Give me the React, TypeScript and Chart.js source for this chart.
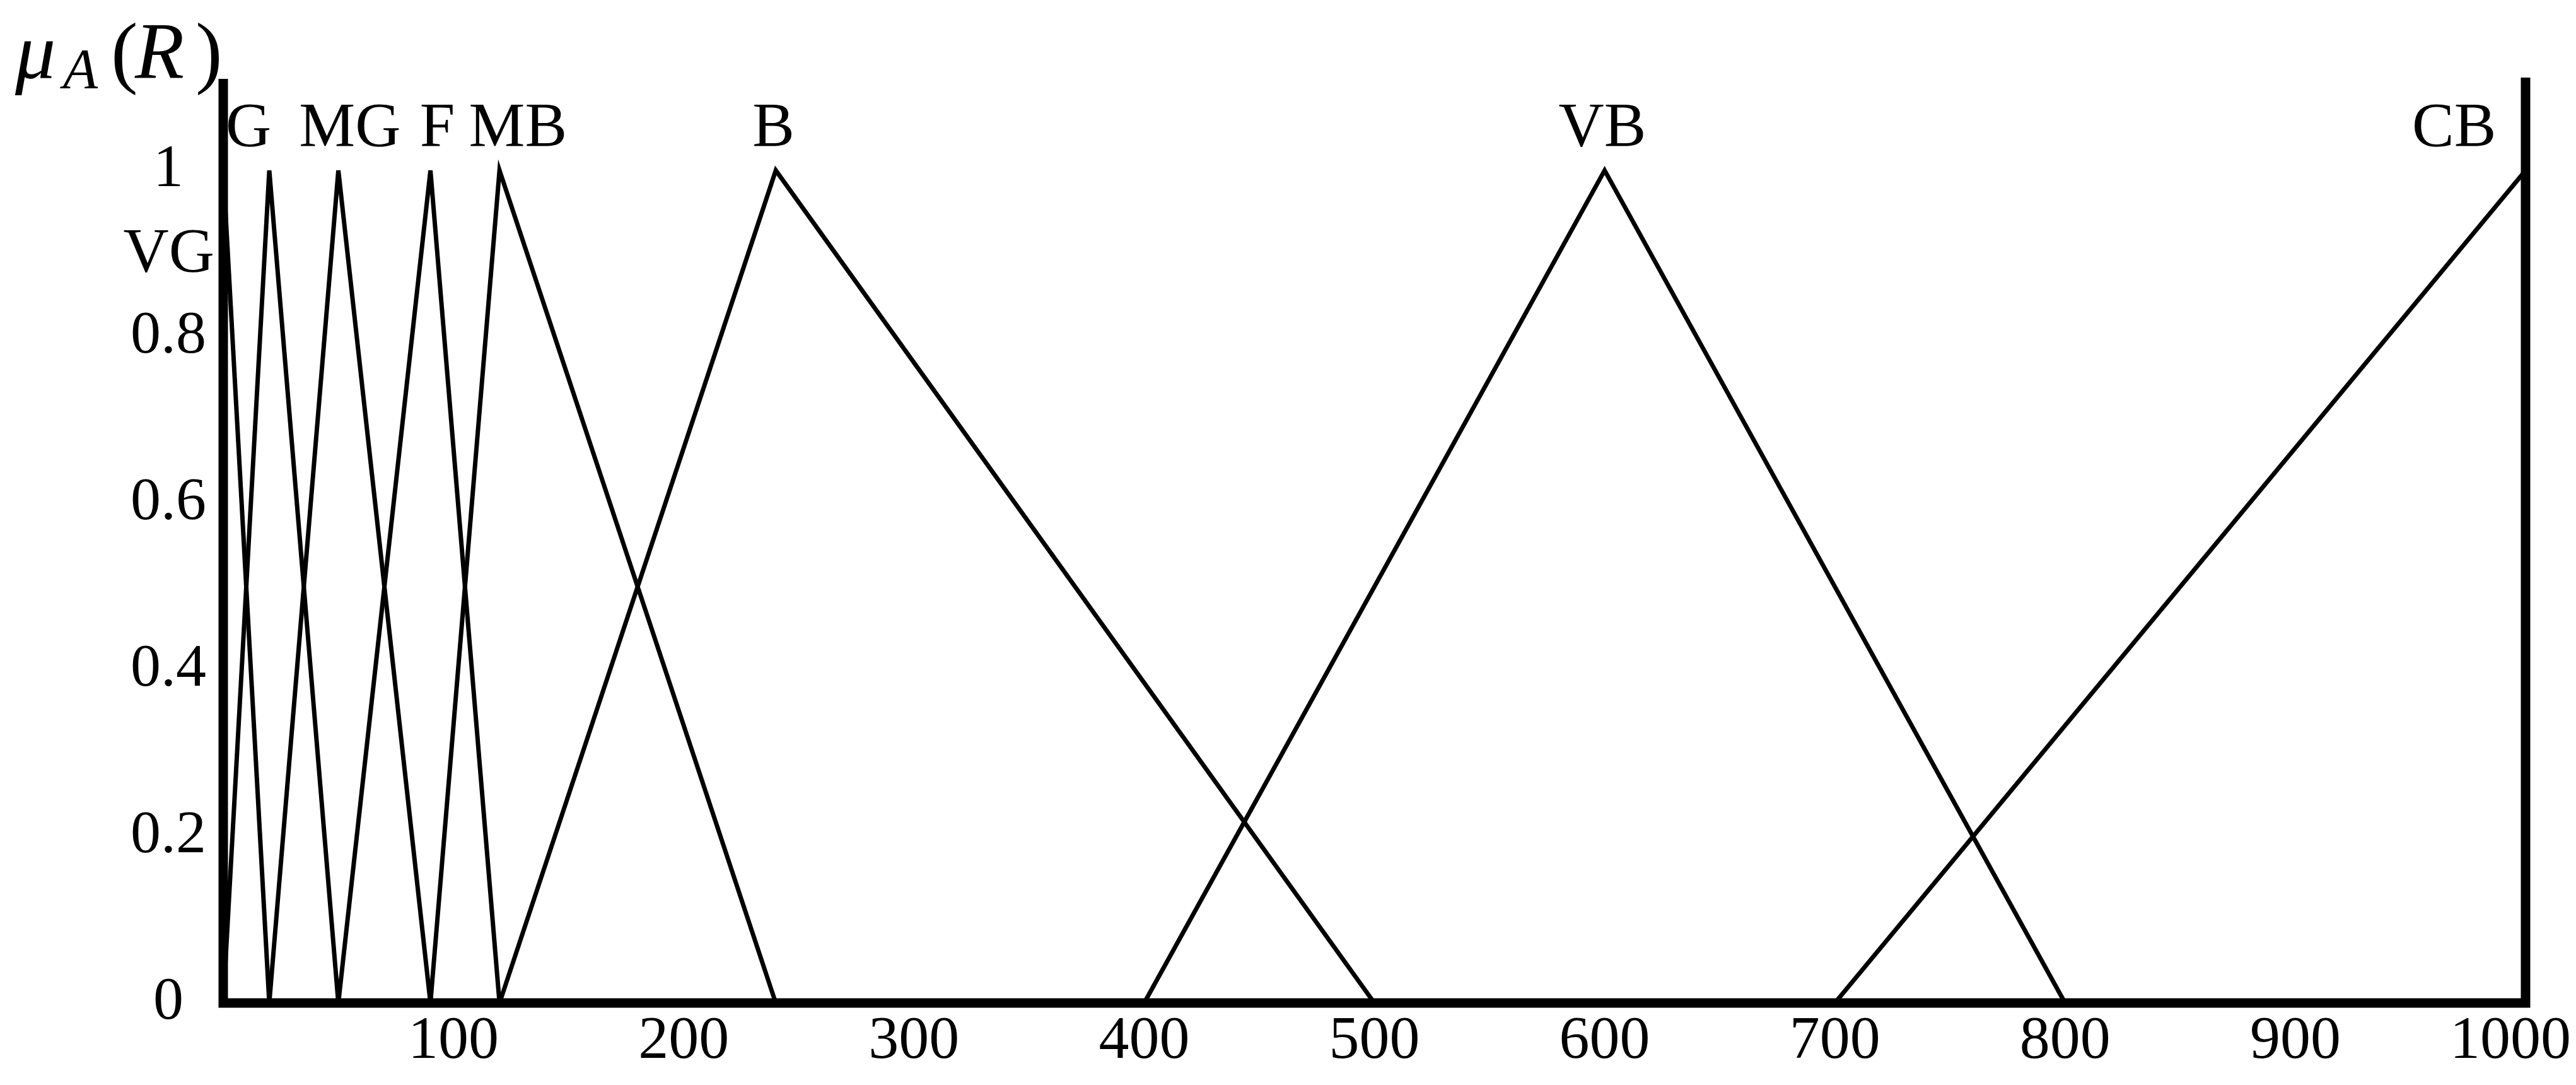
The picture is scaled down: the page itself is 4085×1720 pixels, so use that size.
import React, { useEffect, useRef } from "react";
import { Chart, registerables } from "chart.js";

Chart.register(...registerables);

// Membership functions (x = R, y = membership degree)
const vgX = [0, 20];
const vgY = [1, 0];
const gX = [0, 20, 50];
const gY = [0, 1, 0];
const mgX = [20, 50, 90];
const mgY = [0, 1, 0];
const fX = [50, 90, 120];
const fY = [0, 1, 0];
const mbX = [90, 120, 240];
const mbY = [0, 1, 0];
const bX = [120, 240, 500];
const bY = [0, 1, 0];
const vbX = [400, 600, 800];
const vbY = [0, 1, 0];
const cbX = [700, 1000];
const cbY = [0, 1];

const setNames = ["VG", "G", "MG", "F", "MB", "B", "VB", "CB"];
const xTickValues = [100, 200, 300, 400, 500, 600, 700, 800, 900, 1000];
const yTickValues = [0, 0.2, 0.4, 0.6, 0.8, 1];

const series = [
  [vgX, vgY],
  [gX, gY],
  [mgX, mgY],
  [fX, fY],
  [mbX, mbY],
  [bX, bY],
  [vbX, vbY],
  [cbX, cbY],
];

// Annotation anchors for set names (data coordinates)
const nameAnchors = [
  { x: 0, y: 0.879, align: "right", dx: -14 },
  { x: 11, y: 1.03, align: "center", dx: 0 },
  { x: 55, y: 1.03, align: "center", dx: 0 },
  { x: 93, y: 1.03, align: "center", dx: 0 },
  { x: 128, y: 1.03, align: "center", dx: 0 },
  { x: 239, y: 1.03, align: "center", dx: 0 },
  { x: 599, y: 1.03, align: "center", dx: 0 },
  { x: 969, y: 1.03, align: "center", dx: 0 },
];

const SERIF = '"Liberation Serif", "Times New Roman", serif';

const overlayPlugin = {
  id: "overlay",
  afterDatasetsDraw(chart: any) {
    const { ctx, chartArea: a, scales } = chart;
    const xs = scales.x;
    const ys = scales.y;
    ctx.save();
    // axes frame (left, bottom, right)
    ctx.strokeStyle = "#000";
    ctx.lineWidth = 15;
    ctx.lineJoin = "miter";
    ctx.lineCap = "butt";
    ctx.beginPath();
    ctx.moveTo(a.left, a.top);
    ctx.lineTo(a.left, a.bottom);
    ctx.lineTo(a.right, a.bottom);
    ctx.lineTo(a.right, a.top - 2);
    ctx.stroke();

    // set name labels
    ctx.fillStyle = "#000";
    ctx.textBaseline = "alphabetic";
    ctx.font = `100px ${SERIF}`;
    setNames.forEach((name, i) => {
      const an = nameAnchors[i];
      ctx.textAlign = an.align;
      ctx.fillText(name, xs.getPixelForValue(an.x) + an.dx, ys.getPixelForValue(an.y));
    });

    // y-axis title  mu_A(R)
    ctx.textAlign = "left";
    ctx.font = `italic 128px ${SERIF}`;
    ctx.fillText("\u03BC", 24, 124);
    ctx.font = `italic 90px ${SERIF}`;
    ctx.fillText("A", 100, 140);
    ctx.font = `128px ${SERIF}`;
    ctx.fillText("(", 176, 124);
    ctx.font = `italic 128px ${SERIF}`;
    ctx.fillText("R", 214, 124);
    ctx.font = `128px ${SERIF}`;
    ctx.fillText(")", 310, 124);
    ctx.restore();
  },
};

export default function App() {
  const canvasRef = useRef<HTMLCanvasElement | null>(null);

  useEffect(() => {
    document.body.style.margin = "0";
    const canvas = canvasRef.current;
    if (!canvas) return;
    const datasets = series.map(([xs, ys]) => ({
      data: xs.map((x, i) => ({ x, y: ys[i] })),
      borderColor: "#000",
      borderWidth: 7,
      borderJoinStyle: "miter" as const,
      pointRadius: 0,
      fill: false,
      tension: 0,
    }));
    const chart = new Chart(canvas, {
      type: "line",
      data: { datasets },
      options: {
        responsive: false,
        animation: false,
        layout: { autoPadding: false, padding: { top: 125, right: 80, left: 0, bottom: 0 } },
        plugins: {
          legend: { display: false },
          tooltip: { enabled: false },
          title: { display: false },
        },
        scales: {
          x: {
            type: "linear",
            min: 0,
            max: 1000,
            grid: { display: false, drawTicks: false },
            border: { display: false },
            afterBuildTicks: (s: any) => {
              s.ticks = xTickValues.map((v) => ({ value: v }));
            },
            afterFit: (s: any) => {
              s.height = 130;
              s.paddingLeft = 0;
              s.paddingRight = 0;
            },
            ticks: {
              padding: 4,
              color: "#000",
              autoSkip: false,
              maxRotation: 0,
              font: { family: SERIF, size: 96 },
              callback: (v: any) => (v === 1000 ? String(v) + "  " : String(v)),
            },
          },
          y: {
            type: "linear",
            min: 0,
            max: 1.11,
            grid: { display: false, drawTicks: false },
            border: { display: false },
            afterBuildTicks: (s: any) => {
              s.ticks = yTickValues.map((v) => ({ value: v }));
            },
            afterFit: (s: any) => {
              s.width = 354;
              s.paddingTop = 0;
              s.paddingBottom = 0;
            },
            ticks: {
              padding: 27,
              crossAlign: "center",
              color: "#000",
              autoSkip: false,
              font: { family: SERIF, size: 96 },
              callback: (v: any) => String(v),
            },
          },
        },
      },
      plugins: [overlayPlugin],
    });
    return () => chart.destroy();
  }, []);

  return (
    <div style={{ width: 4085, height: 1720, background: "#fff" }}>
      <canvas ref={canvasRef} width={4085} height={1720} style={{ display: "block" }} />
    </div>
  );
}
